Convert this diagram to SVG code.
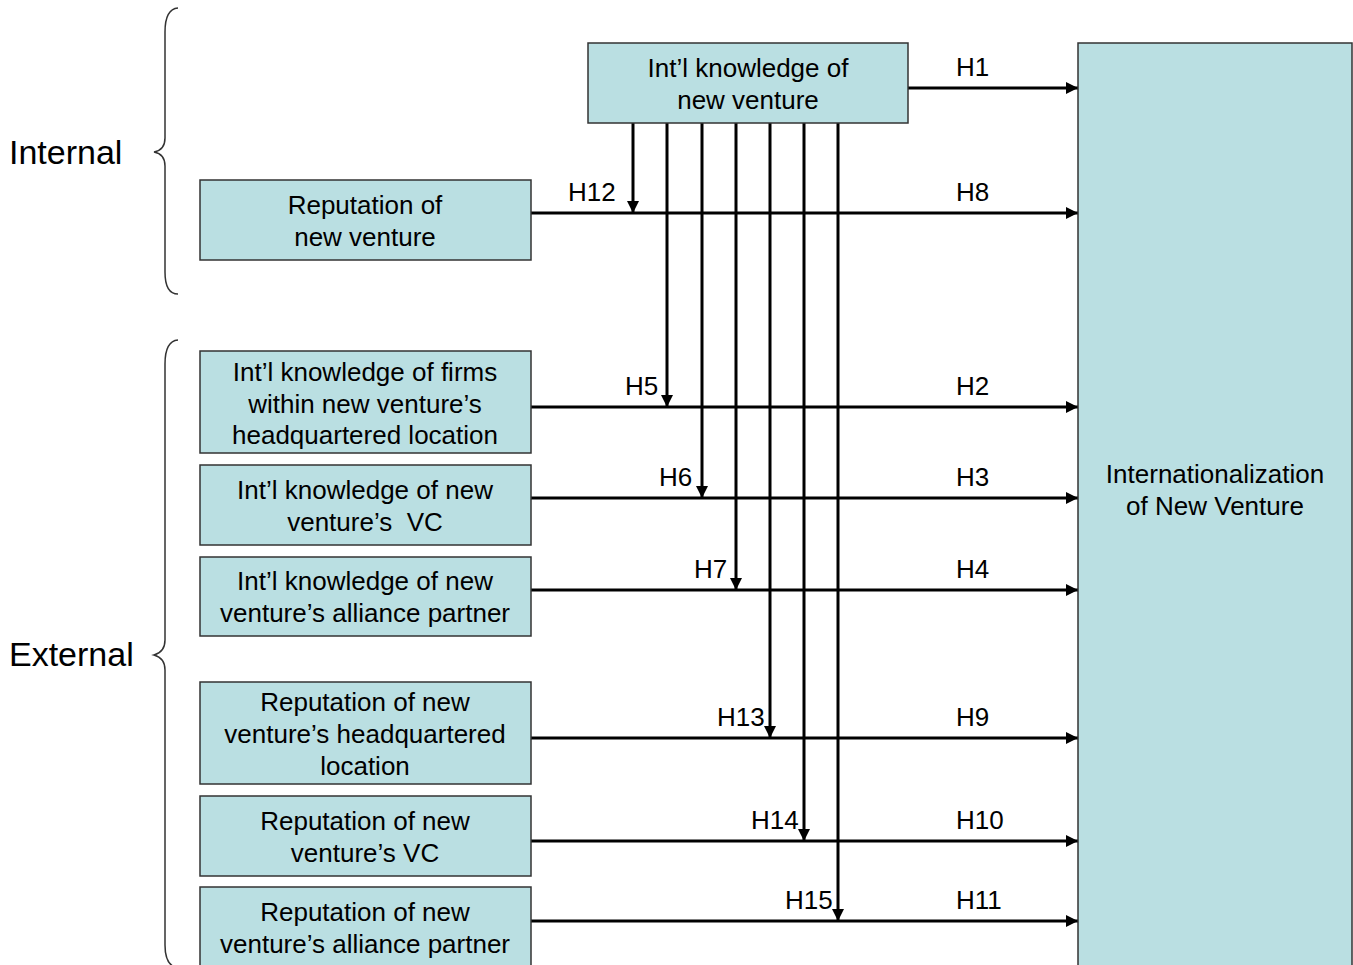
<svg xmlns="http://www.w3.org/2000/svg" width="1353" height="965" viewBox="0 0 1353 965">
<defs>
<marker id="ah" viewBox="0 0 10 10" refX="10" refY="5" markerWidth="4" markerHeight="4" markerUnits="strokeWidth" orient="auto">
<path d="M0,0 L10,5 L0,10 Z" fill="#000"/>
</marker>
<style>
.box{fill:#badfe2;stroke:#333;stroke-width:1.5}
.t{font-family:"Liberation Sans",Arial,sans-serif;font-size:26px;fill:#000}
.c{text-anchor:middle}
.big{font-family:"Liberation Sans",Arial,sans-serif;font-size:34px;fill:#000}
.ln{stroke:#000;stroke-width:3;fill:none}
.br{stroke:#333;stroke-width:1.5;fill:none}
</style>
</defs>
<rect width="1353" height="965" fill="#fff"/>

<g id="braces">
<path class="br" d="M178,8 Q165,9 165,32 L165,138 Q165,150 154,152 Q165,154 165,166 L165,272 Q165,294 178,294"/>
<path class="br" d="M178,340 Q165,341 165,364 L165,640 Q165,652 154,655 Q165,658 165,670 L165,945 Q165,966 178,968"/>
<text class="big" x="9" y="164">Internal</text>
<text class="big" x="9" y="666">External</text>
</g>

<g id="connectors">
<line class="ln" x1="908" y1="88" x2="1078" y2="88" marker-end="url(#ah)"/>
<line class="ln" x1="531" y1="213" x2="1078" y2="213" marker-end="url(#ah)"/>
<line class="ln" x1="531" y1="407" x2="1078" y2="407" marker-end="url(#ah)"/>
<line class="ln" x1="531" y1="498" x2="1078" y2="498" marker-end="url(#ah)"/>
<line class="ln" x1="531" y1="590" x2="1078" y2="590" marker-end="url(#ah)"/>
<line class="ln" x1="531" y1="738" x2="1078" y2="738" marker-end="url(#ah)"/>
<line class="ln" x1="531" y1="841" x2="1078" y2="841" marker-end="url(#ah)"/>
<line class="ln" x1="531" y1="921" x2="1078" y2="921" marker-end="url(#ah)"/>
<line class="ln" x1="633" y1="123" x2="633" y2="213" marker-end="url(#ah)"/>
<line class="ln" x1="667" y1="123" x2="667" y2="407" marker-end="url(#ah)"/>
<line class="ln" x1="702" y1="123" x2="702" y2="498" marker-end="url(#ah)"/>
<line class="ln" x1="736" y1="123" x2="736" y2="590" marker-end="url(#ah)"/>
<line class="ln" x1="770" y1="123" x2="770" y2="738" marker-end="url(#ah)"/>
<line class="ln" x1="804" y1="123" x2="804" y2="841" marker-end="url(#ah)"/>
<line class="ln" x1="838" y1="123" x2="838" y2="921" marker-end="url(#ah)"/>
<text class="t" x="956" y="76">H1</text>
<text class="t" x="956" y="201">H8</text>
<text class="t" x="956" y="395">H2</text>
<text class="t" x="956" y="486">H3</text>
<text class="t" x="956" y="578">H4</text>
<text class="t" x="956" y="726">H9</text>
<text class="t" x="956" y="829">H10</text>
<text class="t" x="956" y="909">H11</text>
<text class="t" x="568" y="201">H12</text>
<text class="t" x="625" y="395">H5</text>
<text class="t" x="659" y="486">H6</text>
<text class="t" x="694" y="578">H7</text>
<text class="t" x="717" y="726">H13</text>
<text class="t" x="751" y="829">H14</text>
<text class="t" x="785" y="909">H15</text>
</g>

<g id="n-intl-knowledge">
<rect class="box" x="588" y="43" width="320" height="80"/>
<text class="t c" x="748" y="77">Int’l knowledge of</text>
<text class="t c" x="748" y="109">new venture</text>
</g>

<g id="n-internationalization">
<rect class="box" x="1078" y="43" width="274" height="930"/>
<text class="t c" x="1215" y="483">Internationalization</text>
<text class="t c" x="1215" y="515">of New Venture</text>
</g>

<g id="n-reputation">
<rect class="box" x="200" y="180" width="331" height="80"/>
<text class="t c" x="365" y="214">Reputation of</text>
<text class="t c" x="365" y="246">new venture</text>
</g>

<g id="n-firms">
<rect class="box" x="200" y="351" width="331" height="102"/>
<text class="t c" x="365" y="381">Int’l knowledge of firms</text>
<text class="t c" x="365" y="413">within new venture’s</text>
<text class="t c" x="365" y="444">headquartered location</text>
</g>

<g id="n-vc">
<rect class="box" x="200" y="465" width="331" height="80"/>
<text class="t c" x="365" y="499">Int’l knowledge of new</text>
<text class="t c" x="365" y="531" xml:space="preserve">venture’s  VC</text>
</g>

<g id="n-alliance">
<rect class="box" x="200" y="557" width="331" height="79"/>
<text class="t c" x="365" y="590">Int’l knowledge of new</text>
<text class="t c" x="365" y="622">venture’s alliance partner</text>
</g>

<g id="n-rep-hq">
<rect class="box" x="200" y="682" width="331" height="102"/>
<text class="t c" x="365" y="711">Reputation of new</text>
<text class="t c" x="365" y="743">venture’s headquartered</text>
<text class="t c" x="365" y="775">location</text>
</g>

<g id="n-rep-vc">
<rect class="box" x="200" y="796" width="331" height="80"/>
<text class="t c" x="365" y="830">Reputation of new</text>
<text class="t c" x="365" y="862">venture’s VC</text>
</g>

<g id="n-rep-alliance">
<rect class="box" x="200" y="887" width="331" height="90"/>
<text class="t c" x="365" y="921">Reputation of new</text>
<text class="t c" x="365" y="953">venture’s alliance partner</text>
</g>
</svg>
